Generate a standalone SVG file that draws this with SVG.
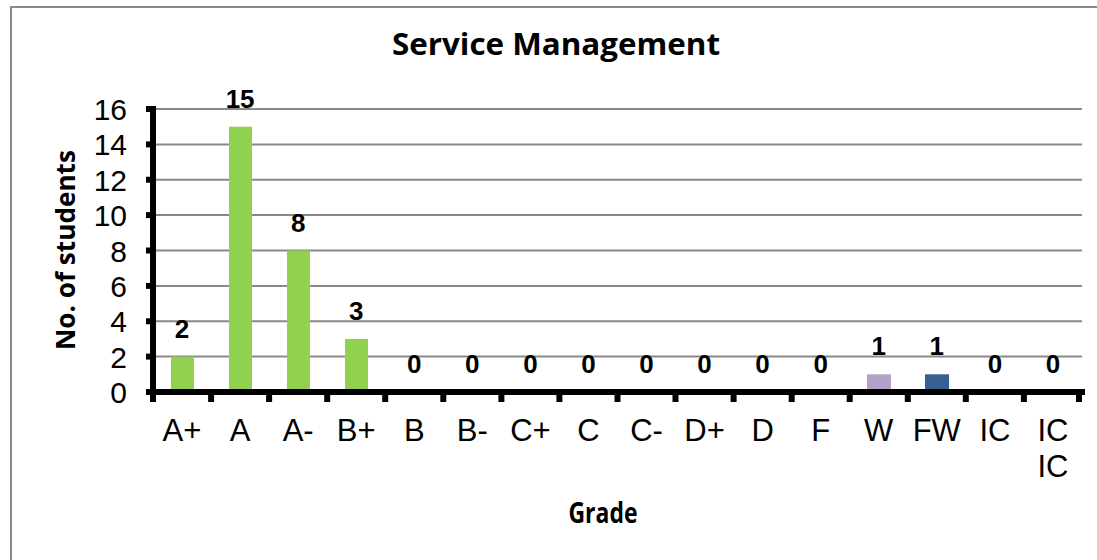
<svg xmlns="http://www.w3.org/2000/svg" width="1097" height="560" viewBox="0 0 1097 560">
<style>
.grid{stroke:#898989;stroke-width:2}
.ax{stroke:#000;stroke-width:6;fill:none}
.tk{stroke:#000;stroke-width:6}
.ylab{font-family:"Liberation Sans",Arial,sans-serif;font-size:30px;text-anchor:end;fill:#000}
.xlab{font-family:"Liberation Sans",Arial,sans-serif;font-size:31px;text-anchor:middle;fill:#000}
.val{font-family:"Liberation Sans",Arial,sans-serif;font-size:26px;font-weight:bold;text-anchor:middle;fill:#000}
.ttl{font-family:"Open Sans","Noto Sans",sans-serif;font-weight:bold;fill:#000;text-anchor:middle}
.g{fill:#92D050}
</style>
<rect x="11" y="7" width="1100" height="570" fill="#fff" stroke="#898989" stroke-width="2"/>
<text id="title" class="ttl" x="556" y="55" font-size="31" textLength="328" lengthAdjust="spacingAndGlyphs">Service Management</text>
<g id="gridlines">
<line class="grid" x1="153" y1="109" x2="1082" y2="109"/>
<line class="grid" x1="153" y1="144.4" x2="1082" y2="144.4"/>
<line class="grid" x1="153" y1="179.75" x2="1082" y2="179.75"/>
<line class="grid" x1="153" y1="215.1" x2="1082" y2="215.1"/>
<line class="grid" x1="153" y1="250.5" x2="1082" y2="250.5"/>
<line class="grid" x1="153" y1="285.9" x2="1082" y2="285.9"/>
<line class="grid" x1="153" y1="321.25" x2="1082" y2="321.25"/>
<line class="grid" x1="153" y1="356.6" x2="1082" y2="356.6"/>
</g>
<g id="bars">
<rect class="g" x="171" y="356.6" width="23" height="34"/>
<rect class="g" x="229" y="126.7" width="23" height="264"/>
<rect class="g" x="287" y="250.5" width="23" height="140"/>
<rect class="g" x="345" y="338.9" width="23" height="52"/>
<rect x="867" y="374.3" width="24" height="16" fill="#B3A2C7"/>
<rect x="925" y="374.3" width="24" height="16" fill="#366092"/>
</g>
<g id="axes">
<line class="ax" x1="153" y1="106" x2="153" y2="392"/>
<line class="ax" x1="150" y1="392" x2="1085" y2="392"/>
<g class="ytk">
<line class="tk" x1="146" y1="109" x2="153" y2="109"/>
<line class="tk" x1="146" y1="144.4" x2="153" y2="144.4"/>
<line class="tk" x1="146" y1="179.75" x2="153" y2="179.75"/>
<line class="tk" x1="146" y1="215.1" x2="153" y2="215.1"/>
<line class="tk" x1="146" y1="250.5" x2="153" y2="250.5"/>
<line class="tk" x1="146" y1="285.9" x2="153" y2="285.9"/>
<line class="tk" x1="146" y1="321.25" x2="153" y2="321.25"/>
<line class="tk" x1="146" y1="356.6" x2="153" y2="356.6"/>
<line class="tk" x1="146" y1="392" x2="153" y2="392"/>
</g>
<g class="xtk">
<line class="tk" x1="153" y1="392" x2="153" y2="402"/>
<line class="tk" x1="211.1" y1="392" x2="211.1" y2="402"/>
<line class="tk" x1="269.1" y1="392" x2="269.1" y2="402"/>
<line class="tk" x1="327.2" y1="392" x2="327.2" y2="402"/>
<line class="tk" x1="385.2" y1="392" x2="385.2" y2="402"/>
<line class="tk" x1="443.3" y1="392" x2="443.3" y2="402"/>
<line class="tk" x1="501.4" y1="392" x2="501.4" y2="402"/>
<line class="tk" x1="559.4" y1="392" x2="559.4" y2="402"/>
<line class="tk" x1="617.5" y1="392" x2="617.5" y2="402"/>
<line class="tk" x1="675.5" y1="392" x2="675.5" y2="402"/>
<line class="tk" x1="733.6" y1="392" x2="733.6" y2="402"/>
<line class="tk" x1="791.7" y1="392" x2="791.7" y2="402"/>
<line class="tk" x1="849.7" y1="392" x2="849.7" y2="402"/>
<line class="tk" x1="907.8" y1="392" x2="907.8" y2="402"/>
<line class="tk" x1="965.8" y1="392" x2="965.8" y2="402"/>
<line class="tk" x1="1023.9" y1="392" x2="1023.9" y2="402"/>
<line class="tk" x1="1079" y1="392" x2="1079" y2="402"/>
</g>
</g>
<g id="ylabels">
<text class="ylab" x="127" y="120">16</text>
<text class="ylab" x="127" y="155.4">14</text>
<text class="ylab" x="127" y="190.75">12</text>
<text class="ylab" x="127" y="226.1">10</text>
<text class="ylab" x="127" y="261.5">8</text>
<text class="ylab" x="127" y="296.9">6</text>
<text class="ylab" x="127" y="332.25">4</text>
<text class="ylab" x="127" y="367.6">2</text>
<text class="ylab" x="127" y="403">0</text>
</g>
<g id="values">
<text class="val" x="182" y="338">2</text>
<text class="val" x="240.1" y="108">15</text>
<text class="val" x="298.2" y="232">8</text>
<text class="val" x="356.2" y="320">3</text>
<text class="val" x="414.3" y="373">0</text>
<text class="val" x="472.3" y="373">0</text>
<text class="val" x="530.4" y="373">0</text>
<text class="val" x="588.5" y="373">0</text>
<text class="val" x="646.5" y="373">0</text>
<text class="val" x="704.6" y="373">0</text>
<text class="val" x="762.6" y="373">0</text>
<text class="val" x="820.7" y="373">0</text>
<text class="val" x="878.7" y="355">1</text>
<text class="val" x="936.8" y="355">1</text>
<text class="val" x="994.9" y="373">0</text>
<text class="val" x="1052.9" y="373">0</text>
</g>
<g id="xlabels">
<text class="xlab" x="182" y="441">A+</text>
<text class="xlab" x="240.1" y="441">A</text>
<text class="xlab" x="298.2" y="441">A-</text>
<text class="xlab" x="356.2" y="441">B+</text>
<text class="xlab" x="414.3" y="441">B</text>
<text class="xlab" x="472.3" y="441">B-</text>
<text class="xlab" x="530.4" y="441">C+</text>
<text class="xlab" x="588.5" y="441">C</text>
<text class="xlab" x="646.5" y="441">C-</text>
<text class="xlab" x="704.6" y="441">D+</text>
<text class="xlab" x="762.6" y="441">D</text>
<text class="xlab" x="820.7" y="441">F</text>
<text class="xlab" x="878.7" y="441">W</text>
<text class="xlab" x="936.8" y="441">FW</text>
<text class="xlab" x="994.9" y="441">IC</text>
<text class="xlab" x="1052.9" y="441">IC</text>
<text class="xlab" x="1052.9" y="477">IC</text>
</g>
<text id="ytitle" class="ttl" transform="translate(75,250) rotate(-90)" x="0" y="0" font-size="27" textLength="200" lengthAdjust="spacingAndGlyphs">No. of students</text>
<text id="xtitle" class="ttl" x="603" y="523" font-size="28" textLength="69" lengthAdjust="spacingAndGlyphs">Grade</text>
</svg>
